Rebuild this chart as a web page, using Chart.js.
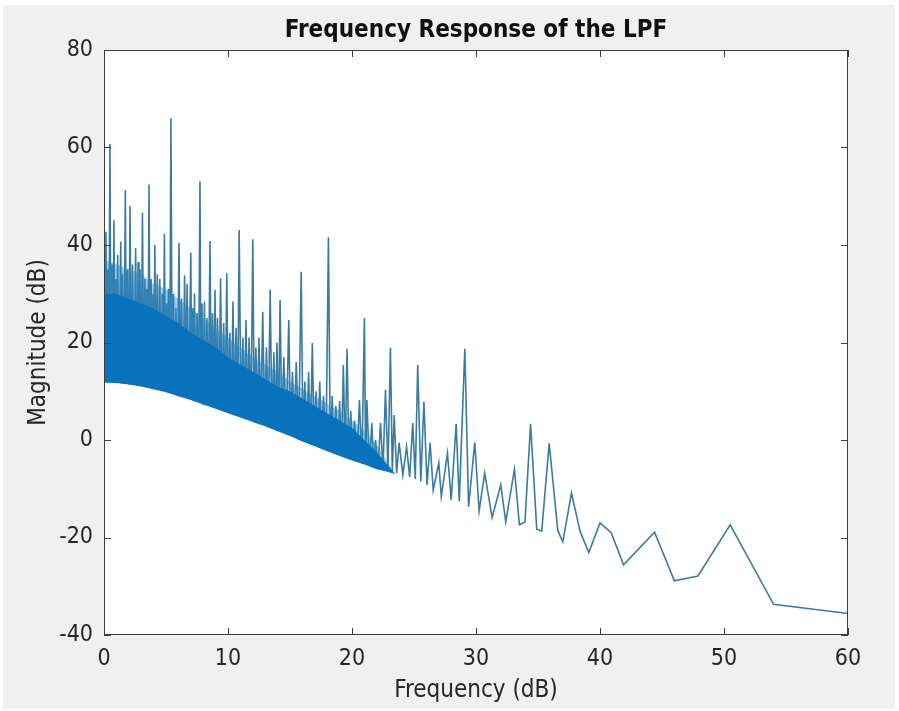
<!DOCTYPE html>
<html>
<head>
<meta charset="utf-8">
<title>Frequency Response of the LPF</title>
<script src="https://cdn.jsdelivr.net/npm/chart.js@4/dist/chart.umd.min.js"></script>
<style>
  html, body { margin: 0; background: #ffffff; }
  #frame { position: absolute; left: 3px; top: 5px; width: 892px; height: 704px; background: #f0f0f0; }
</style>
</head>
<body>
<div id="frame"><canvas id="lpfChart"></canvas></div>
<script>
const FONT = "'DejaVu Sans Condensed', 'Liberation Sans', Arial, sans-serif";

// axis ticks
const xTicks = [0, 10, 20, 30, 40, 50, 60];
const yTicks = [-40, -20, 0, 20, 40, 60, 80];

// dense low-frequency band: floor, solid core top, lighter haze top
const bandFreq  = [0, 1, 2, 3, 4, 5, 6, 7, 8, 9, 10, 11, 12, 13, 14, 15, 16, 17, 18, 19, 20, 21, 22, 22.5, 23, 23.5];
const bandFloor = [11.8, 11.7, 11.4, 11, 10.4, 9.8, 9, 8.2, 7.3, 6.4, 5.5, 4.6, 3.7, 2.8, 1.8, 0.8, -0.3, -1.3, -2.3, -3.3, -4.2, -5, -6, -6.3, -6.6, -7];
const bandCore  = [30, 30, 29, 28, 27, 25.5, 24, 22, 20.5, 19, 17, 15.5, 14, 12.5, 11, 10, 8.5, 7, 5.5, 4, 2.5, 0, -2.5, -4, -5.5, -7];
const bandHaze  = [37, 36, 35, 34, 32, 31, 29, 27, 25, 23, 21, 19, 17, 15.5, 14, 12, 10.5, 9, 7.5, 6, 4, 2, -1, -3, -5, -7];

// magnitude response (dB) against frequency
const freq = [
  0.00, 0.08, 0.16, 0.23, 0.30, 0.39, 0.48, 0.56, 0.65, 0.72, 0.80, 0.88, 0.95, 1.02, 1.10, 1.22, 1.35, 1.42, 1.50, 1.61,
  1.72, 1.81, 1.90, 2.00, 2.10, 2.20, 2.30, 2.42, 2.55, 2.65, 2.75, 2.82, 2.90, 3.00, 3.10, 3.20, 3.30, 3.38, 3.45, 3.54,
  3.63, 3.72, 3.80, 3.88, 3.95, 4.02, 4.10, 4.20, 4.30, 4.40, 4.50, 4.60, 4.70, 4.78, 4.87, 4.96, 5.05, 5.12, 5.20, 5.30,
  5.40, 5.50, 5.60, 5.70, 5.80, 5.92, 6.05, 6.15, 6.25, 6.38, 6.50, 6.60, 6.70, 6.85, 7.00, 7.08, 7.15, 7.22, 7.30, 7.40,
  7.50, 7.62, 7.74, 7.82, 7.90, 8.00, 8.10, 8.20, 8.30, 8.42, 8.55, 8.65, 8.75, 8.85, 8.95, 9.05, 9.15, 9.28, 9.40, 9.52,
  9.65, 9.78, 9.90, 10.02, 10.15, 10.28, 10.40, 10.52, 10.65, 10.78, 10.90, 11.05, 11.20, 11.32, 11.45, 11.58, 11.70, 11.85, 12.00, 12.12,
  12.25, 12.38, 12.50, 12.65, 12.80, 12.95, 13.10, 13.25, 13.40, 13.55, 13.70, 13.82, 13.95, 14.08, 14.20, 14.35, 14.50, 14.70, 14.90, 15.05,
  15.20, 15.35, 15.50, 15.70, 15.90, 16.05, 16.20, 16.35, 16.50, 16.65, 16.80, 16.95, 17.10, 17.25, 17.40, 17.55, 17.70, 17.90, 18.10, 18.25,
  18.40, 18.55, 18.70, 18.85, 19.00, 19.15, 19.30, 19.45, 19.60, 19.75, 19.90, 20.05, 20.20, 20.40, 20.60, 20.80, 21.00, 21.10, 21.20, 21.40,
  21.60, 21.75, 21.90, 22.10, 22.30, 22.50, 22.70, 22.90, 23.10, 23.25, 23.40, 23.60, 23.80, 24.10, 24.40, 24.65, 24.90, 25.10, 25.30, 25.55,
  25.80, 26.05, 26.30, 26.55, 27.00, 27.20, 27.70, 28.00, 28.40, 28.65, 29.10, 29.40, 29.90, 30.25, 30.70, 31.30, 32.00, 32.40, 33.10, 33.50,
  33.95, 34.40, 34.90, 35.30, 35.90, 36.60, 37.00, 37.70, 38.40, 39.10, 40.00, 40.90, 41.90, 44.40, 46.00, 47.90, 50.50, 54.00, 60.00
];
const mag = [
  20, 12, 42.7, 11.8, 35, 11.8, 60.7, 11.8, 36, 11.8, 45.1, 11.7, 33, 11.7, 38, 11.7, 40.7, 11.6, 34, 11.6,
  51.3, 11.5, 35, 11.4, 48, 11.4, 36, 11.3, 39.4, 11.2, 36.5, 11.2, 35, 11, 46.6, 11, 33, 10.9, 31, 10.8,
  52.4, 10.7, 33, 10.6, 30, 10.5, 40, 10.4, 34, 10.3, 33, 10.2, 30, 10.1, 42.3, 10, 28, 9.9, 31, 9.8,
  66, 9.7, 30, 9.6, 27, 9.1, 40.4, 9, 29, 8.9, 33.8, 8.7, 32, 8.4, 38.4, 8.2, 27, 8.1, 30.1, 8,
  26, 7.8, 53.1, 7.6, 28, 7.3, 28.4, 7.2, 25, 7, 40.8, 6.9, 26, 6.6, 30.8, 6.5, 25, 6.3, 33.2, 6.1,
  24, 5.8, 34.2, 5.6, 22, 5.3, 28.4, 5.1, 23, 4.9, 43.1, 4.6, 21, 4.4, 24.6, 4.2, 21, 3.9, 41.2, 3.6,
  19, 3.4, 21, 3.2, 26.3, 2.9, 19, 2.6, 30.8, 2.3, 18, 2, 20, 1.8, 28.7, 1.5, 17, 1.2, 24.6, 0.9,
  14, 0.6, 16, 0.1, 34.5, -0.3, 12, -0.5, 14, -0.9, 19.9, -1.1, 10, -1.4, 12, -1.7, 9, -2.1, 41.6, -2.4,
  9, -2.7, 7, -3, 8, -3.2, 15.4, -3.5, 18.7, -3.8, 6, -4.2, 4, -4.4, 8.2, -4.8, 25, -4.9, 8.2, -5.2,
  3.5, -5.4, 0, -5.7, 3.5, -6, 10.3, -6.3, 18.9, -6.5, 5.1, -6.8, -0.6, -7.2, -1.4, -7.6, 3.5, -8, 15.4, -8.5,
  7.9, -9.2, -0.6, -10.3, -4.7, -11.6, -2.7, -12.3, 3.3, -12.6, 18.7, -13.7, -0.5, -14.6, -6.8, -15.9, -9.2, -16.8, -6, -17.4,
  -16.8, 3.3, -18.3, -18.7, -0.7, -18.6, -20.9, -10.9, -18.8, -23.1, -17, -19, -25.6, -18.9, -28.9, -27.9, -17.4, -33.7, -35.6
];

const toPoints = (xs, ys) => xs.map((x, i) => ({ x: x, y: ys[i] }));

// white axes area on the grey figure background
const axesBackground = {
  id: 'axesBackground',
  beforeDraw(chart) {
    const { ctx, chartArea: a } = chart;
    ctx.save();
    ctx.fillStyle = '#ffffff';
    ctx.fillRect(a.left, a.top, a.right - a.left, a.bottom - a.top);
    ctx.restore();
  }
};

// box outline with inward tick marks on all four sides
const axesBox = {
  id: 'axesBox',
  afterDraw(chart) {
    const { ctx, chartArea: a, scales } = chart;
    const len = 7;
    ctx.save();
    ctx.strokeStyle = '#3c3c3c';
    ctx.lineWidth = 1;
    ctx.strokeRect(a.left + 0.5, a.top + 0.5, a.right - a.left - 1, a.bottom - a.top - 1);
    ctx.beginPath();
    xTicks.forEach(v => {
      const px = Math.round(scales.x.getPixelForValue(v)) + 0.5;
      ctx.moveTo(px, a.bottom); ctx.lineTo(px, a.bottom - len);
      ctx.moveTo(px, a.top); ctx.lineTo(px, a.top + len);
    });
    yTicks.forEach(v => {
      const py = Math.round(scales.y.getPixelForValue(v)) + 0.5;
      ctx.moveTo(a.left, py); ctx.lineTo(a.left + len, py);
      ctx.moveTo(a.right, py); ctx.lineTo(a.right - len, py);
    });
    ctx.stroke();
    ctx.restore();
  }
};

const ctx = document.getElementById('lpfChart').getContext('2d');

new Chart(ctx, {
  type: 'line',
  data: {
    datasets: [
      {
        label: 'floor',
        data: toPoints(bandFreq, bandFloor),
        borderWidth: 0,
        pointRadius: 0,
        fill: false,
        order: 2
      },
      {
        label: 'core',
        data: toPoints(bandFreq, bandCore),
        borderWidth: 0,
        pointRadius: 0,
        backgroundColor: '#0872bd',
        fill: '-1',
        order: 1
      },
      {
        label: 'haze',
        data: toPoints(bandFreq, bandHaze),
        borderWidth: 0,
        pointRadius: 0,
        backgroundColor: 'rgba(40, 135, 205, 0.45)',
        fill: '-1',
        order: 0
      },
      {
        // the response trace sits under the band so the band keeps its blue
        label: 'Magnitude',
        data: toPoints(freq, mag),
        borderColor: '#3b7c9e',
        borderWidth: 1.6,
        pointRadius: 0,
        fill: false,
        tension: 0,
        order: 5
      }
    ]
  },
  options: {
    responsive: true,
    maintainAspectRatio: false,
    animation: false,
    events: [],
    layout: { padding: { left: 0, right: 47, top: 0, bottom: 0 } },
    plugins: {
      legend: { display: false },
      tooltip: { enabled: false },
      title: {
        display: true,
        fullSize: false,
        text: 'Frequency Response of the LPF',
        color: '#111111',
        font: { family: FONT, size: 24, weight: 'bold', lineHeight: 1.2 },
        padding: { top: 11.6, bottom: 4.6 }
      }
    },
    scales: {
      x: {
        type: 'linear',
        min: 0,
        max: 60,
        afterBuildTicks: s => { s.ticks = xTicks.map(v => ({ value: v })); },
        afterFit: s => { s.height = 74; },
        grid: { display: false },
        border: { display: false },
        ticks: { color: '#262626', padding: 2, font: { family: FONT, size: 23 } },
        title: {
          display: true,
          text: 'Frequency (dB)',
          color: '#262626',
          font: { family: FONT, size: 24, lineHeight: 1.2 },
          padding: { top: 0, bottom: 3.6 }
        }
      },
      y: {
        type: 'linear',
        min: -40,
        max: 80,
        afterBuildTicks: s => { s.ticks = yTicks.map(v => ({ value: v })); },
        afterFit: s => { s.width = 101; },
        grid: { display: false },
        border: { display: false },
        ticks: { color: '#262626', padding: 3, font: { family: FONT, size: 23 } },
        title: {
          display: true,
          text: 'Magnitude (dB)',
          color: '#262626',
          font: { family: FONT, size: 24, lineHeight: 1.2 },
          padding: { top: 21.6, bottom: 0 }
        }
      }
    }
  },
  plugins: [axesBackground, axesBox]
});
</script>
</body>
</html>
